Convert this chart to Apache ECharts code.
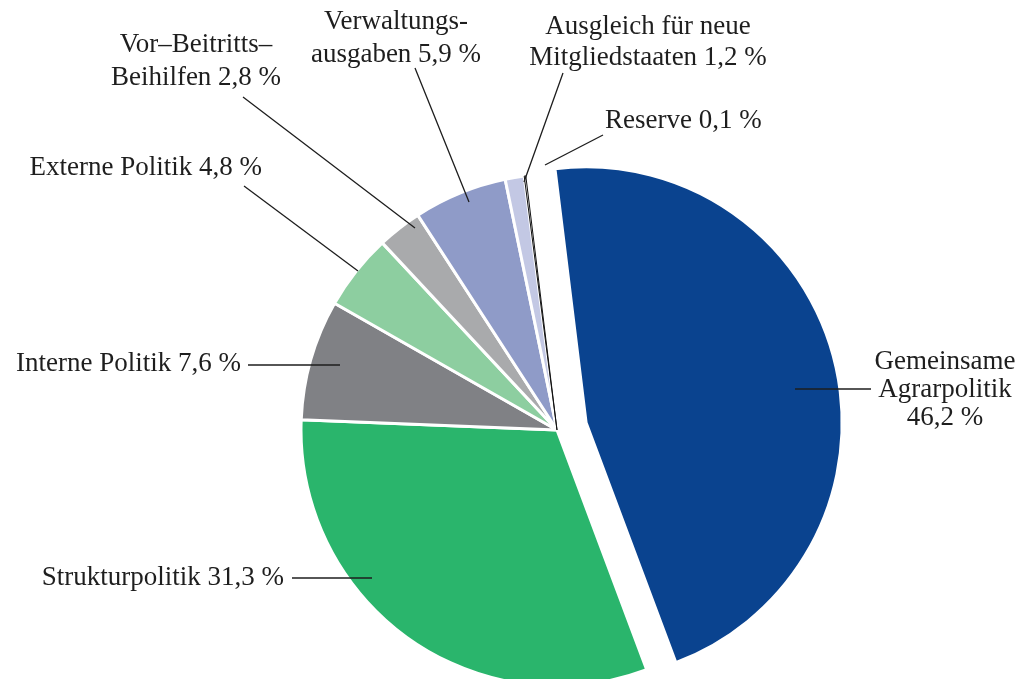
<!DOCTYPE html>
<html>
<head>
<meta charset="utf-8">
<script src="https://cdn.jsdelivr.net/npm/echarts@6/dist/echarts.min.js"></script>
<style>
html,body{margin:0;padding:0;background:#fff;}
#chart{width:1021px;height:679px;}
</style>
</head>
<body>
<div id="chart"></div>
<script>
// ---- data ----
const categories = ['Gemeinsame Agrarpolitik', 'Strukturpolitik', 'Interne Politik', 'Externe Politik',
  'Vor–Beitritts–Beihilfen', 'Verwaltungsausgaben', 'Ausgleich für neue Mitgliedstaaten', 'Reserve'];
const values = [46.2, 31.3, 7.6, 4.8, 2.8, 5.9, 1.2, 0.1];
const labelNames = ['Gemeinsame\nAgrarpolitik\n', 'Strukturpolitik ', 'Interne Politik ', 'Externe Politik ',
  'Vor–Beitritts–\nBeihilfen ', 'Verwaltungs-\nausgaben ', 'Ausgleich für neue\nMitgliedstaaten ', 'Reserve '];
const colors = ['#0a438f', '#2ab56c', '#808185', '#8dcea0', '#a9aaac', '#8f9bc8', '#c3c8e4', '#ffffff'];
const explodedIndex = 0;

// ---- layout (positions / styles only) ----
const CX = 557, CY = 430, R = 256, START = 97, EXPLODE = 30;
const labelPos = [
  { x: 945, y: 390, align: 'center', lh: 28, line: [[795, 389], [871, 389]] },
  { x: 284, y: 578, align: 'right', lh: 32, line: [[372, 578], [292, 578]] },
  { x: 241, y: 364, align: 'right', lh: 32, line: [[340, 365], [248, 365]] },
  { x: 262, y: 168, align: 'right', lh: 32, line: [[358, 271], [244, 186]] },
  { x: 196, y: 61, align: 'center', lh: 33, line: [[415, 228], [243, 97]] },
  { x: 396, y: 38, align: 'center', lh: 33, line: [[469, 202], [415, 68]] },
  { x: 648, y: 42, align: 'center', lh: 31, line: [[524, 182], [563, 73]] },
  { x: 605, y: 121, align: 'left', lh: 32, line: [[545, 165], [603, 135]] }
];

const fmt = v => v.toFixed(1).replace('.', ',') + ' %';
const total = values.reduce((a, b) => a + b, 0);
let before = 0;
for (let i = 0; i < explodedIndex; i++) before += values[i];
const midDeg = START - (before + values[explodedIndex] / 2) / total * 360;
const mid = midDeg * Math.PI / 180;
const CX2 = CX + EXPLODE * Math.cos(mid), CY2 = CY - EXPLODE * Math.sin(mid);

const labelStyle = { color: '#1e1e1e', fontFamily: 'Liberation Serif', fontSize: 27 };
const clear = { color: 'rgba(0,0,0,0)', borderColor: 'rgba(0,0,0,0)', borderWidth: 0 };

// sector series (no labels)
function sectorSeries(center, showIdx, z) {
  return {
    type: 'pie', center: center, radius: R, startAngle: START, clockwise: true,
    silent: true, z: z, emphasis: { disabled: true },
    itemStyle: { borderColor: '#fff', borderWidth: 3 },
    label: { show: false }, labelLine: { show: false },
    data: categories.map((c, i) => ({
      name: c, value: values[i],
      itemStyle: !showIdx(i) ? clear
        : (i === 7 ? { color: colors[i], borderColor: '#111', borderWidth: 1 } : { color: colors[i] })
    }))
  };
}

// label series on top (transparent sectors, labels + leader lines)
const labelSeries = {
  type: 'pie', center: [CX, CY], radius: R, startAngle: START, clockwise: true,
  silent: true, z: 10, avoidLabelOverlap: false, emphasis: { disabled: true },
  itemStyle: clear,
  label: Object.assign({ show: true, position: 'outside' }, labelStyle),
  labelLine: { show: true, length: 10, length2: 10, smooth: false, lineStyle: { color: '#1e1e1e', width: 1.3 } },
  labelLayout: function (p) {
    const lp = labelPos[p.dataIndex];
    const a = lp.line[0], b = lp.line[1];
    return {
      x: lp.x, y: lp.y, align: lp.align, verticalAlign: 'middle',
      labelLinePoints: [a, [(a[0] + b[0]) / 2, (a[1] + b[1]) / 2], b]
    };
  },
  data: categories.map((c, i) => ({
    name: c, value: values[i],
    label: { formatter: labelNames[i] + fmt(values[i]), lineHeight: labelPos[i].lh }
  }))
};

const chart = echarts.init(document.getElementById('chart'));
chart.setOption({
  animation: false,
  backgroundColor: '#fff',
  series: [
    sectorSeries([CX, CY], i => i !== explodedIndex, 1),
    sectorSeries([CX2, CY2], i => i === explodedIndex, 2),
    labelSeries
  ]
});
</script>
</body>
</html>
